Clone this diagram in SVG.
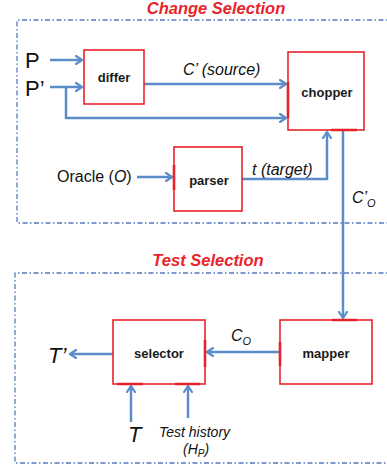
<svg xmlns="http://www.w3.org/2000/svg" width="387" height="469" viewBox="0 0 387 469">
<defs>
<marker id="ah" markerWidth="10" markerHeight="10" refX="7" refY="5" orient="auto" markerUnits="userSpaceOnUse">
<path d="M1,1 L7,5 L1,9" fill="none" stroke="#5b8dc9" stroke-width="2.2" stroke-linecap="round" stroke-linejoin="round"/>
</marker>
</defs>
<style>
.frame{fill:none;stroke:#5577c0;stroke-width:1.3;stroke-dasharray:5 2.5 1.5 2.5}
.box{fill:#fff;stroke:#e8232b;stroke-width:1.6}
.hl{stroke:#e8232b;stroke-width:2.6;fill:none}
.lbl{font-family:"Liberation Sans",Arial,sans-serif;font-weight:bold;font-size:13px;fill:#1a1a1a;text-anchor:middle}
.t{font-family:"Liberation Sans",Arial,sans-serif;font-size:16px;fill:#111}
.it{font-style:italic}
.title{font-family:"Liberation Sans",Arial,sans-serif;font-weight:bold;font-style:italic;font-size:16.5px;fill:#e8232b;text-anchor:middle}
.c{fill:none;stroke:#5b8dc9;stroke-width:2.5}
</style>
<rect width="387" height="469" fill="#fff"/>
<g id="change-selection">
<path class="frame" d="M395,20 H17 V223 H395"/>
<text class="title" x="216" y="13.5">Change Selection</text>
</g>
<g id="test-selection">
<path class="frame" d="M395,273 H15 V463 H395"/>
<text class="title" x="208" y="266">Test Selection</text>
</g>
<g id="connectors">
<path class="c" d="M50,60 H82" marker-end="url(#ah)"/>
<path class="c" d="M50,87 H82" marker-end="url(#ah)"/>
<path class="c" d="M66,87 V118 H286" marker-end="url(#ah)"/>
<path class="c" d="M144,84 H286" marker-end="url(#ah)"/>
<path class="c" d="M137,177 H172" marker-end="url(#ah)"/>
<path class="c" d="M242,179 H327 V132" marker-end="url(#ah)"/>
<path class="c" d="M343,130 V318" marker-end="url(#ah)"/>
<path class="c" d="M280,352 H207" marker-end="url(#ah)"/>
<path class="c" d="M113,354 H70" marker-end="url(#ah)"/>
<path class="c" d="M131,422 V386" marker-end="url(#ah)"/>
<path class="c" d="M188,418 V386" marker-end="url(#ah)"/>
</g>
<g id="P"><text class="t" x="25" y="68" style="font-size:22px">P</text></g>
<g id="Pprime"><text class="t" x="25" y="96" style="font-size:22px">P’</text></g>
<g id="differ">
<rect class="box" x="84" y="50" width="60" height="54"/>
<text class="lbl" x="114" y="82">differ</text>
</g>
<g id="chopper">
<rect class="box" x="288" y="52" width="76" height="78"/>
<path class="hl" d="M288,82 V118 M331,130 H357"/>
<text class="lbl" x="327" y="97">chopper</text>
</g>
<g id="parser">
<rect class="box" x="174" y="147" width="68" height="64"/>
<path class="hl" d="M174,165 V190"/>
<text class="lbl" x="209" y="185">parser</text>
</g>
<g id="selector">
<rect class="box" x="113" y="320" width="92" height="64"/>
<path class="hl" d="M205,340 V367 M117,384 H143 M175,384 H200"/>
<text class="lbl" x="159" y="358">selector</text>
</g>
<g id="mapper">
<rect class="box" x="280" y="320" width="92" height="64"/>
<path class="hl" d="M280,342 V366 M332,320 H357"/>
<text class="lbl" x="326" y="358">mapper</text>
</g>
<g id="labels">
<text class="t it" x="183" y="75">C’ (source)</text>
<text class="t" x="57" y="182">Oracle (<tspan class="it">O</tspan>)</text>
<text class="t it" x="252" y="175">t (target)</text>
<text class="t it" x="352" y="203">C’<tspan font-size="11" dy="4">O</tspan></text>
<text class="t it" x="231" y="341">C<tspan font-size="11" dy="4">O</tspan></text>
<text class="t it" x="48" y="363" style="font-size:22px">T’</text>
<text class="t it" x="128" y="442" style="font-size:22px">T</text>
<text class="t it" x="159" y="437" style="font-size:14px">Test history</text>
<text class="t it" x="183" y="454" style="font-size:14px">(H<tspan font-size="10" dy="3">P</tspan><tspan dy="-3">)</tspan></text>
</g>
</svg>
